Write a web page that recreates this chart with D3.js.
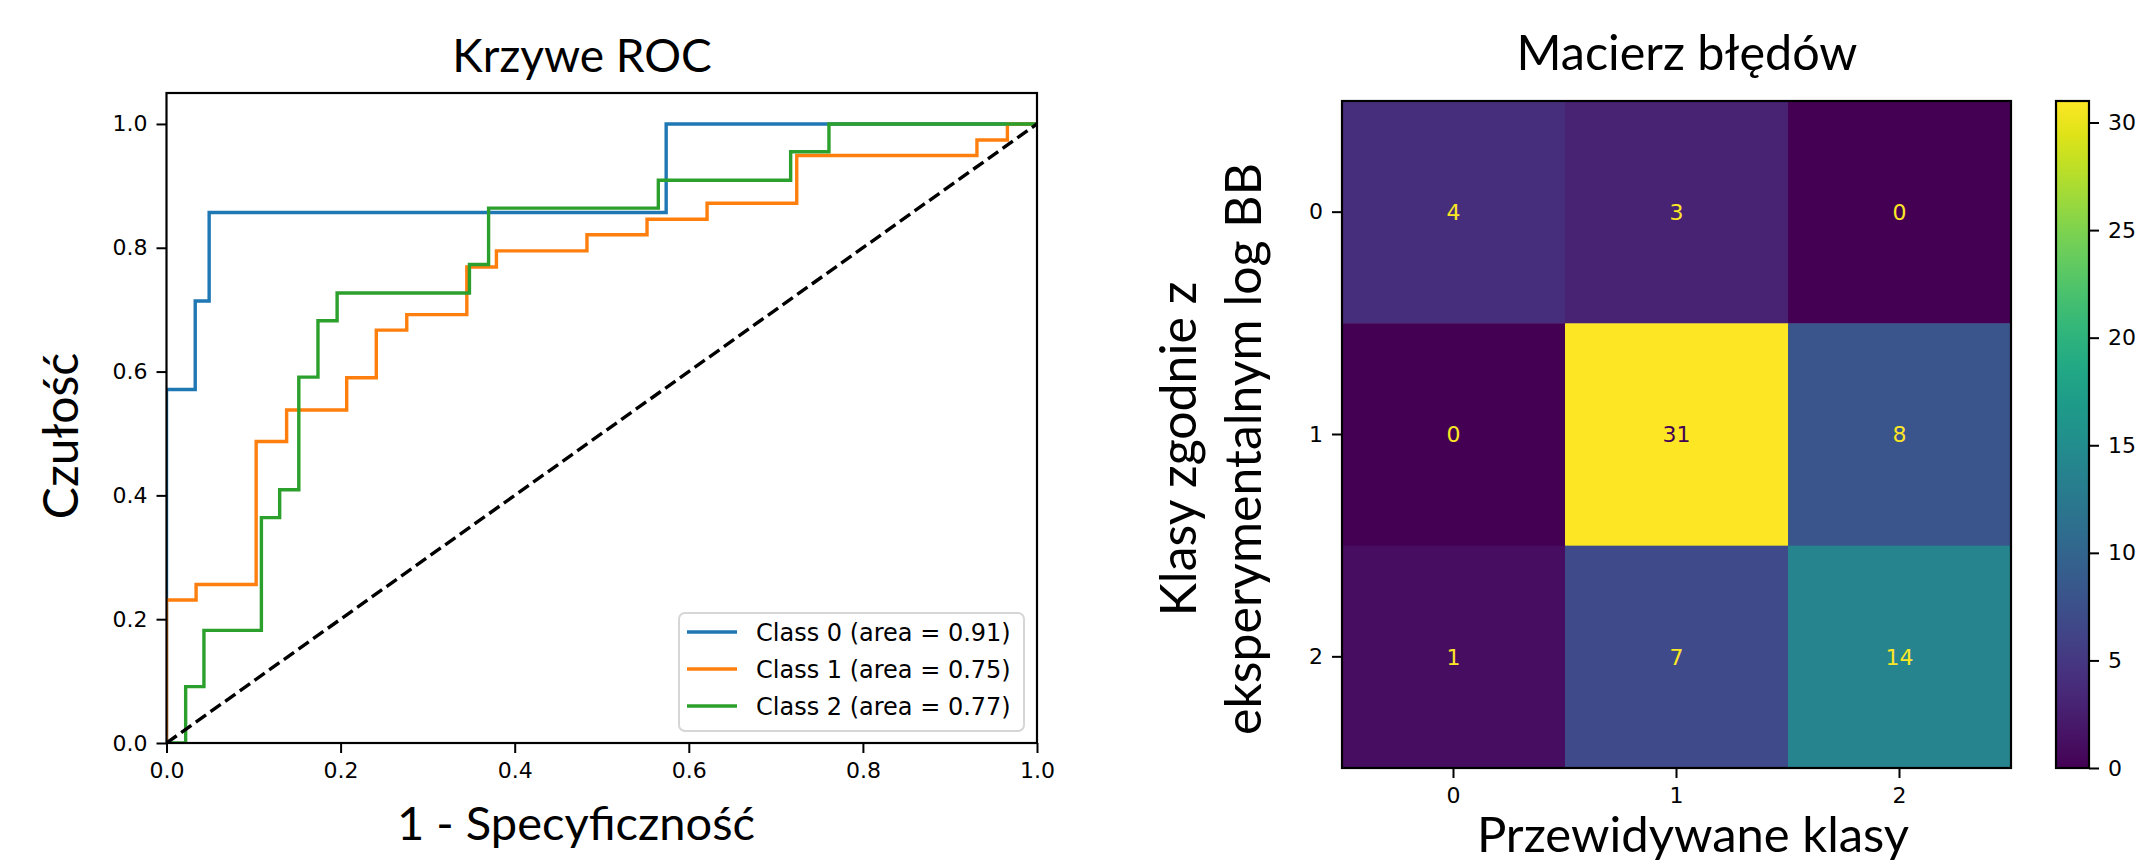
<!DOCTYPE html>
<html>
<head>
<meta charset="utf-8">
<script src="https://cdn.jsdelivr.net/npm/d3@7"></script>
<style>
  body { margin: 0; background: #ffffff; }
  .tick text { font-family: "DejaVu Sans", sans-serif; }
  .label { font-family: Lato, "Open Sans", sans-serif; fill: #000; }
</style>
</head>
<body>
<svg id="chart"></svg>
<script>
// ROC curve points (false positive rate / true positive rate) per class
const fprClass0 = [0, 0, 0.033, 0.033, 0.049, 0.049, 0.574, 0.574, 1];
const tprClass0 = [0, 0.571, 0.571, 0.714, 0.714, 0.857, 0.857, 1, 1];

const fprClass1 = [0, 0, 0.034, 0.034, 0.103, 0.103, 0.138, 0.138, 0.207, 0.207, 0.241, 0.241,
  0.276, 0.276, 0.345, 0.345, 0.379, 0.379, 0.483, 0.483, 0.552, 0.552, 0.621, 0.621,
  0.724, 0.724, 0.931, 0.931, 0.966, 0.966, 1];
const tprClass1 = [0, 0.231, 0.231, 0.256, 0.256, 0.487, 0.487, 0.538, 0.538, 0.590, 0.590, 0.667,
  0.667, 0.692, 0.692, 0.769, 0.769, 0.795, 0.795, 0.821, 0.821, 0.846, 0.846, 0.872,
  0.872, 0.949, 0.949, 0.974, 0.974, 1, 1];

const fprClass2 = [0, 0.022, 0.022, 0.043, 0.043, 0.109, 0.109, 0.130, 0.130, 0.152, 0.152, 0.174,
  0.174, 0.196, 0.196, 0.348, 0.348, 0.370, 0.370, 0.565, 0.565, 0.717, 0.717, 0.761, 0.761, 1];
const tprClass2 = [0, 0, 0.091, 0.091, 0.182, 0.182, 0.364, 0.364, 0.409, 0.409, 0.591, 0.591,
  0.682, 0.682, 0.727, 0.727, 0.773, 0.773, 0.864, 0.864, 0.909, 0.909, 0.955, 0.955, 1, 1];

const classNames = ['Class 0', 'Class 1', 'Class 2'];
const classAreas = [0.91, 0.75, 0.77];
const classColors = ['#1f77b4', '#ff7f0e', '#2ca02c'];
const rocTicks = [0, 0.2, 0.4, 0.6, 0.8, 1.0];

// Confusion matrix (rows = true class, columns = predicted class)
const matrixLabels = [0, 1, 2];
const matrixValues = [
  [4, 3, 0],
  [0, 31, 8],
  [1, 7, 14]
];
const colorbarTicks = [0, 5, 10, 15, 20, 25, 30];

const W = 2138, H = 864;
const svg = d3.select('#chart').attr('width', W).attr('height', H);
svg.append('rect').attr('width', W).attr('height', H).attr('fill', '#fff');

// ---------- ROC panel ----------
const x = d3.scaleLinear().domain([0, 1]).range([166.5, 1037]);
const y = d3.scaleLinear().domain([0, 1.05]).range([743, 93]);

const roc = svg.append('g');
roc.append('clipPath').attr('id', 'roc-clip')
  .append('rect')
  .attr('x', x(0)).attr('y', y(1.05))
  .attr('width', x(1) - x(0)).attr('height', y(0) - y(1.05));

const series = [
  fprClass0.map((f, i) => [f, tprClass0[i]]),
  fprClass1.map((f, i) => [f, tprClass1[i]]),
  fprClass2.map((f, i) => [f, tprClass2[i]])
];

const line = d3.line().x(d => x(d[0])).y(d => y(d[1]));

const lines = roc.append('g').attr('clip-path', 'url(#roc-clip)');
lines.selectAll('path.roc')
  .data(series)
  .enter()
  .append('path')
  .attr('class', 'roc')
  .attr('d', line)
  .attr('fill', 'none')
  .attr('stroke', (d, i) => classColors[i])
  .attr('stroke-width', 3.4);

// chance diagonal
lines.append('path')
  .attr('d', line([[0, 0], [1, 1]]))
  .attr('fill', 'none')
  .attr('stroke', '#000')
  .attr('stroke-width', 3.4)
  .attr('stroke-dasharray', '12.5,5.5');

const xAxisG = roc.append('g')
  .attr('transform', `translate(0,${y(0)})`)
  .call(d3.axisBottom(x).tickValues(rocTicks).tickFormat(d3.format('.1f')).tickSize(10).tickPadding(9));
const yAxisG = roc.append('g')
  .attr('transform', `translate(${x(0)},0)`)
  .call(d3.axisLeft(y).tickValues(rocTicks).tickFormat(d3.format('.1f')).tickSize(10).tickPadding(9));
[xAxisG, yAxisG].forEach(g => {
  g.select('.domain').remove();
  g.selectAll('.tick line').attr('stroke', '#000').attr('stroke-width', 2);
  g.selectAll('.tick text').attr('font-size', 22).attr('fill', '#000');
});

// frame
roc.append('rect')
  .attr('x', x(0)).attr('y', y(1.05))
  .attr('width', x(1) - x(0)).attr('height', y(0) - y(1.05))
  .attr('fill', 'none').attr('stroke', '#000').attr('stroke-width', 2.2);

// legend
const legend = roc.append('g').attr('transform', 'translate(679,613)');
legend.append('rect')
  .attr('width', 345).attr('height', 118)
  .attr('rx', 6)
  .attr('fill', '#fff').attr('fill-opacity', 0.8)
  .attr('stroke', '#d6d6d6').attr('stroke-width', 2);
const legendRows = legend.selectAll('g.row')
  .data(classNames)
  .enter()
  .append('g')
  .attr('class', 'row')
  .attr('transform', (d, i) => `translate(0,${19 + i * 37})`);
legendRows.append('line')
  .attr('x1', 8).attr('x2', 58)
  .attr('stroke', (d, i) => classColors[i])
  .attr('stroke-width', 3.4);
legendRows.append('text')
  .attr('x', 77).attr('dy', '0.36em')
  .attr('font-family', '"DejaVu Sans", sans-serif')
  .attr('font-size', 24)
  .text((d, i) => `${d} (area = ${classAreas[i].toFixed(2)})`);

// ROC titles
svg.append('text').attr('class', 'label')
  .attr('x', 582).attr('y', 72)
  .attr('text-anchor', 'middle').attr('font-size', 46)
  .text('Krzywe ROC');
svg.append('text').attr('class', 'label')
  .attr('x', 576).attr('y', 840)
  .attr('text-anchor', 'middle').attr('font-size', 47)
  .text('1 - Specyficzność');
svg.append('text').attr('class', 'label')
  .attr('transform', 'translate(78,436) rotate(-90)')
  .attr('text-anchor', 'middle').attr('font-size', 48)
  .text('Czułość');

// ---------- Confusion matrix panel ----------
const cx = d3.scaleBand().domain(matrixLabels).range([1342, 2011]);
const cy = d3.scaleBand().domain(matrixLabels).range([101, 768]);
const vmax = d3.max(matrixValues.flat());
const vmin = d3.min(matrixValues.flat());
const color = d3.scaleSequential(d3.interpolateViridis).domain([vmin, vmax]);

const cells = [];
matrixValues.forEach((row, r) => row.forEach((v, c) => cells.push({ r, c, v })));

const cm = svg.append('g');
cm.selectAll('rect.cell')
  .data(cells)
  .enter()
  .append('rect')
  .attr('class', 'cell')
  .attr('x', d => cx(d.c))
  .attr('y', d => cy(d.r))
  .attr('width', cx.bandwidth() + 0.5)
  .attr('height', cy.bandwidth() + 0.5)
  .attr('fill', d => color(d.v));

const thresh = (vmax + vmin) / 2;
cm.selectAll('text.val')
  .data(cells)
  .enter()
  .append('text')
  .attr('class', 'val')
  .attr('x', d => cx(d.c) + cx.bandwidth() / 2)
  .attr('y', d => cy(d.r) + cy.bandwidth() / 2)
  .attr('dy', '0.36em')
  .attr('text-anchor', 'middle')
  .attr('font-family', '"DejaVu Sans", sans-serif')
  .attr('font-size', 22)
  .attr('fill', d => d.v > thresh ? color(vmin) : color(vmax))
  .text(d => d.v);

const cxAxis = cm.append('g')
  .attr('transform', 'translate(0,768)')
  .call(d3.axisBottom(cx).tickSize(10).tickPadding(9));
const cyAxis = cm.append('g')
  .attr('transform', 'translate(1342,0)')
  .call(d3.axisLeft(cy).tickSize(10).tickPadding(9));
[cxAxis, cyAxis].forEach(g => {
  g.select('.domain').remove();
  g.selectAll('.tick line').attr('stroke', '#000').attr('stroke-width', 2);
  g.selectAll('.tick text').attr('font-size', 22).attr('fill', '#000');
});

cm.append('rect')
  .attr('x', 1342).attr('y', 101).attr('width', 669).attr('height', 667)
  .attr('fill', 'none').attr('stroke', '#000').attr('stroke-width', 2.2);

// colorbar
const cb = d3.scaleLinear().domain([vmin, vmax]).range([768, 101]);
const grad = svg.append('defs').append('linearGradient')
  .attr('id', 'viridis').attr('x1', 0).attr('y1', 1).attr('x2', 0).attr('y2', 0);
d3.range(0, 1.0001, 0.05).forEach(t => {
  grad.append('stop').attr('offset', t).attr('stop-color', d3.interpolateViridis(t));
});
cm.append('rect')
  .attr('x', 2056).attr('y', 101).attr('width', 33).attr('height', 667)
  .attr('fill', 'url(#viridis)')
  .attr('stroke', '#000').attr('stroke-width', 2.2);
const cbAxis = cm.append('g')
  .attr('transform', 'translate(2089,0)')
  .call(d3.axisRight(cb).tickValues(colorbarTicks).tickSize(10).tickPadding(9));
cbAxis.select('.domain').remove();
cbAxis.selectAll('.tick line').attr('stroke', '#000').attr('stroke-width', 2);
cbAxis.selectAll('.tick text').attr('font-size', 22).attr('fill', '#000');

// confusion matrix titles
svg.append('text').attr('class', 'label')
  .attr('x', 1687).attr('y', 70)
  .attr('text-anchor', 'middle').attr('font-size', 48.5)
  .text('Macierz błędów');
svg.append('text').attr('class', 'label')
  .attr('x', 1693).attr('y', 852)
  .attr('text-anchor', 'middle').attr('font-size', 49)
  .text('Przewidywane klasy');
// two-line y label, one text per line
svg.append('text').attr('class', 'label')
  .attr('transform', 'translate(1196,449) rotate(-90)')
  .attr('text-anchor', 'middle').attr('font-size', 50)
  .text('Klasy zgodnie z');
svg.append('text').attr('class', 'label')
  .attr('transform', 'translate(1261,449) rotate(-90)')
  .attr('text-anchor', 'middle').attr('font-size', 50)
  .text('eksperymentalnym log BB');
</script>
</body>
</html>
